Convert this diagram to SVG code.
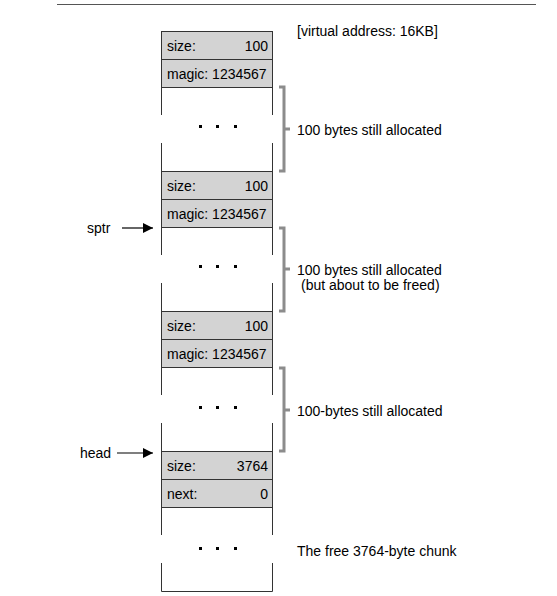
<svg xmlns="http://www.w3.org/2000/svg" width="557" height="596" viewBox="0 0 557 596">
<style>
text{font-family:"Liberation Sans",Arial,sans-serif;font-size:14px;fill:#000}
.hdr{fill:#d3d3d3;stroke:#333;stroke-width:1}
.side{stroke:#333;stroke-width:1;fill:none}
.br{stroke:#8c8c8c;stroke-width:3;fill:none}
.dot{fill:#000}
.arr{stroke:#000;stroke-width:1.2;fill:none}
.r{text-anchor:end}
</style>
<defs>
<marker id="ah" viewBox="0 0 10 10" refX="10" refY="5" markerWidth="10" markerHeight="10" markerUnits="userSpaceOnUse" orient="auto">
<path d="M0,0 L10,5 L0,10 z" fill="#000"/>
</marker>
</defs>
<line x1="57" y1="4.5" x2="536" y2="4.5" stroke="#555" stroke-width="1"/>
<g id="header1">
<rect class="hdr" x="161.5" y="31.5" width="111" height="28"/>
<rect class="hdr" x="161.5" y="59.5" width="111" height="28"/>
<text x="167" y="51">size:</text><text class="r" x="268" y="51">100</text>
<text x="167" y="79">magic: 1234567</text>
</g>
<g id="region1">
<path class="side" d="M161.5,87.5V115M272.5,87.5V115M161.5,143V171.5M272.5,143V171.5"/>
<rect class="dot" x="199" y="125" width="3" height="3"/><rect class="dot" x="216" y="125" width="3" height="3"/><rect class="dot" x="234" y="125" width="3" height="3"/>
</g>
<g id="header2">
<rect class="hdr" x="161.5" y="171.5" width="111" height="28"/>
<rect class="hdr" x="161.5" y="199.5" width="111" height="28"/>
<text x="167" y="191">size:</text><text class="r" x="268" y="191">100</text>
<text x="167" y="219">magic: 1234567</text>
</g>
<g id="region2">
<path class="side" d="M161.5,227.5V255M272.5,227.5V255M161.5,283V311.5M272.5,283V311.5"/>
<rect class="dot" x="199" y="265" width="3" height="3"/><rect class="dot" x="216" y="265" width="3" height="3"/><rect class="dot" x="234" y="265" width="3" height="3"/>
</g>
<g id="header3">
<rect class="hdr" x="161.5" y="311.5" width="111" height="28"/>
<rect class="hdr" x="161.5" y="339.5" width="111" height="28"/>
<text x="167" y="331">size:</text><text class="r" x="268" y="331">100</text>
<text x="167" y="359">magic: 1234567</text>
</g>
<g id="region3">
<path class="side" d="M161.5,367.5V395M272.5,367.5V395M161.5,423V451.5M272.5,423V451.5"/>
<rect class="dot" x="199" y="406" width="3" height="3"/><rect class="dot" x="216" y="406" width="3" height="3"/><rect class="dot" x="234" y="406" width="3" height="3"/>
</g>
<g id="freeheader">
<rect class="hdr" x="161.5" y="451.5" width="111" height="28"/>
<rect class="hdr" x="161.5" y="479.5" width="111" height="28"/>
<text x="167" y="471">size:</text><text class="r" x="268" y="471">3764</text>
<text x="167" y="499">next:</text><text class="r" x="268" y="499">0</text>
</g>
<g id="freechunk">
<path class="side" d="M161.5,507.5V535M272.5,507.5V535M161.5,563V591.5H272.5V563"/>
<rect class="dot" x="199" y="547" width="3" height="3"/><rect class="dot" x="216" y="547" width="3" height="3"/><rect class="dot" x="234" y="547" width="3" height="3"/>
</g>
<g id="brackets">
<path class="br" d="M279,87H284V171H279M284,129H290"/>
<path class="br" d="M279,228H284V311H279M284,269H290"/>
<path class="br" d="M279,368H284V451H279M284,410H290"/>
</g>
<g id="labels">
<text x="297" y="36">[virtual address: 16KB]</text>
<text x="297" y="135">100 bytes still allocated</text>
<text x="297" y="275">100 bytes still allocated</text>
<text x="301" y="290">(but about to be freed)</text>
<text x="297" y="416">100-bytes still allocated</text>
<text x="297" y="556">The free 3764-byte chunk</text>
<text x="87" y="233">sptr</text>
<text x="80" y="458">head</text>
</g>
<g id="connectors">
<line class="arr" x1="122" y1="228" x2="153" y2="228" marker-end="url(#ah)"/>
<line class="arr" x1="117" y1="453" x2="153" y2="453" marker-end="url(#ah)"/>
</g>
</svg>
